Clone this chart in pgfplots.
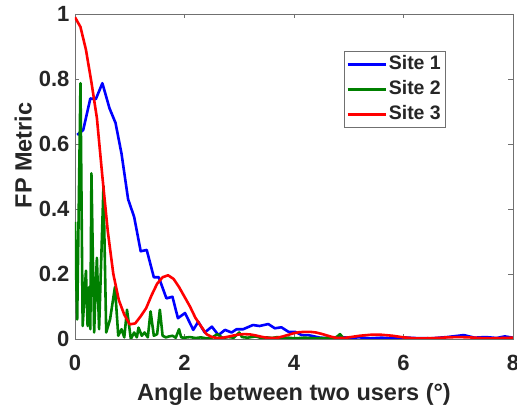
\documentclass[border=0pt]{standalone}
\usepackage{pgfplots}
\pgfplotsset{compat=1.18}
\usepackage{fontspec}
\setmainfont{Liberation Sans}
\definecolor{txt}{HTML}{262626}
\definecolor{axc}{HTML}{707070}
\definecolor{mgreen}{rgb}{0,0.5,0}
\begin{document}
\begin{tikzpicture}
\begin{axis}[
  at={(0,0)}, anchor=south west,
  scale only axis, width=438bp, height=325bp,
  xmin=0, xmax=8, ymin=0, ymax=1,
  xtick={0,2,4,6,8}, ytick={0,0.2,0.4,0.6,0.8,1},
  tick align=inside, major tick length=4.5bp,
  axis line style={axc, line width=0.6bp},
  tick style={axc, line width=0.6bp},
  /pgf/number format/assume math mode=true,
  ticklabel style={font=\fontsize{22bp}{26bp}\selectfont\bfseries, text=txt},
  xticklabel style={anchor=base, yshift=-31bp},
  yticklabel style={xshift=-2bp},
  xlabel={Angle between two users (\textdegree)},
  ylabel={FP Metric},
  label style={font=\fontsize{23.5bp}{28bp}\selectfont\bfseries, text=txt},
  xlabel style={at={(axis description cs:0.5,0)}, anchor=base, yshift=-61.5bp},
  ylabel style={at={(axis description cs:-0.118,0.565)}, anchor=center},
  legend style={at={(axis description cs:0.614,0.886)}, anchor=north west,
    draw=axc, line width=0.6bp, fill=white, inner xsep=2bp, inner ysep=1bp,
    font=\fontsize{19.5bp}{23bp}\selectfont\bfseries, text=txt,
    nodes={text height=14bp, text depth=4bp, inner ysep=3.4bp}},
  legend cell align=left,
  legend image code/.code={\draw[#1] (0bp,0bp) -- (38bp,0bp);},
  every axis plot/.append style={line width=2.6bp, line join=round},
]
\addplot[blue] coordinates {
(0.04,0.628) (0.15,0.643) (0.28,0.74) (0.38,0.738) (0.50,0.787) (0.63,0.71)
(0.74,0.665) (0.85,0.57) (0.97,0.43) (1.08,0.376) (1.20,0.27) (1.31,0.274)
(1.44,0.19) (1.53,0.19) (1.67,0.125) (1.78,0.13) (1.88,0.064) (2.01,0.08)
(2.16,0.028) (2.25,0.053) (2.37,0.02) (2.50,0.038) (2.62,0.012) (2.74,0.028)
(2.86,0.02) (2.95,0.03) (3.07,0.03) (3.25,0.043) (3.37,0.04) (3.53,0.046)
(3.65,0.033) (3.77,0.036) (3.90,0.022) (4.02,0.022) (4.14,0.012) (4.26,0.012)
(4.48,0.004) (4.6,0.003) (4.8,0.006) (5.0,0.004) (5.2,0.005) (5.4,0.002)
(5.6,0.004) (5.8,0.002) (6.0,0.005) (6.2,0.003) (6.5,0.002) (6.8,0.006)
(7.1,0.012) (7.3,0.004) (7.5,0.006) (7.7,0.003) (7.85,0.008) (8,0.004)
};
\addlegendentry{Site 1}
\addplot[mgreen] coordinates {
(0.00,0.36) (0.04,0.06) (0.10,0.787) (0.14,0.04) (0.20,0.21) (0.23,0.04)
(0.26,0.16) (0.28,0.03) (0.30,0.51) (0.35,0.02) (0.38,0.17) (0.40,0.25)
(0.44,0.03) (0.52,0.47) (0.57,0.02) (0.64,0.06) (0.73,0.16) (0.79,0.01)
(0.85,0.03) (0.90,0.005) (0.95,0.09) (1.02,0.0) (1.08,0.02) (1.13,0.005)
(1.16,0.035) (1.22,0.01) (1.27,0.02) (1.33,0.005) (1.38,0.085) (1.44,0.01)
(1.50,0.015) (1.55,0.09) (1.60,0.01) (1.66,0.005) (1.72,0.008) (1.78,0.01)
(1.84,0.004) (1.90,0.03) (1.94,0.005) (2.0,0.004) (2.1,0.006) (2.2,0.003)
(2.3,0.005) (2.4,0.002) (2.5,0.004) (2.6,0.015) (2.7,0.003) (2.8,0.006)
(2.9,0.004) (3.0,0.02) (3.05,0.006) (3.15,0.004) (3.3,0.008) (3.4,0.003)
(3.5,0.005) (3.6,0.003) (3.7,0.006) (3.8,0.002) (3.9,0.004) (4.0,0.002)
(4.2,0.004) (4.4,0.002) (4.6,0.003) (4.75,0.002) (4.84,0.015) (4.9,0.003)
(5.0,0.001)
};
\addlegendentry{Site 2}
\addplot[red] coordinates {
(0,0.99) (0.1,0.96) (0.2,0.89) (0.3,0.79) (0.4,0.68) (0.5,0.50) (0.6,0.33)
(0.7,0.20) (0.8,0.12) (0.9,0.075) (1.0,0.045) (1.1,0.048) (1.2,0.07)
(1.3,0.095) (1.4,0.135) (1.5,0.17) (1.6,0.19) (1.7,0.196) (1.8,0.185)
(1.9,0.16) (2.0,0.13) (2.1,0.10) (2.2,0.065) (2.3,0.04) (2.4,0.015)
(2.5,0.006) (2.6,0.003) (2.7,0.004) (2.8,0.007) (2.9,0.011) (3.0,0.014)
(3.1,0.015) (3.2,0.014) (3.3,0.011) (3.4,0.007) (3.5,0.004) (3.6,0.003)
(3.7,0.004) (3.8,0.008) (3.9,0.013) (4.0,0.018) (4.1,0.021) (4.2,0.022)
(4.3,0.022) (4.4,0.02) (4.5,0.016) (4.6,0.011) (4.7,0.006) (4.8,0.003)
(4.9,0.003) (5.0,0.005) (5.2,0.01) (5.4,0.013) (5.6,0.013) (5.8,0.01)
(6.0,0.005) (6.2,0.002) (6.4,0.002) (6.6,0.003) (6.8,0.005) (7.0,0.006)
(7.2,0.005) (7.4,0.003) (7.6,0.002) (7.8,0.003) (8.0,0.004)
};
\addlegendentry{Site 3}
\end{axis}
\pgfresetboundingbox
\useasboundingbox (-75bp,-68bp) rectangle (442bp,339bp);
\end{tikzpicture}
\end{document}
